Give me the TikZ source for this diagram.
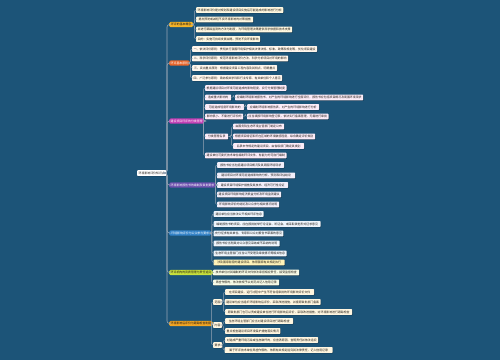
\documentclass[tikz,border=0pt]{standalone}
\usepackage{fontspec}
\newfontfamily\cjk{Noto Sans CJK SC}
\usetikzlibrary{calc,shadows}
\definecolor{bg}{RGB}{28,84,120}
\definecolor{lineC}{RGB}{150,165,180}
\definecolor{cA}{RGB}{245,180,40}
\definecolor{cB}{RGB}{232,100,40}
\definecolor{cC}{RGB}{195,60,180}
\definecolor{cD}{RGB}{110,80,175}
\definecolor{cE}{RGB}{50,130,200}
\definecolor{cF}{RGB}{200,225,60}
\definecolor{cG}{RGB}{242,165,35}
\definecolor{fA}{RGB}{255,248,225}
\definecolor{fB}{RGB}{255,246,236}
\definecolor{fC}{RGB}{251,236,248}
\definecolor{fD}{RGB}{242,238,250}
\definecolor{fE}{RGB}{238,245,252}
\definecolor{fY}{RGB}{255,243,184}
\definecolor{fF}{RGB}{247,251,230}
\definecolor{fG}{RGB}{255,246,224}
\definecolor{txt}{RGB}{30,25,20}
\newcommand\cn[2]{\draw[conn] (#1.east) -- ($(#1.east -| #2.west)+(-1.6,0)$) |- (#2.west);}
\newcommand\rc[1]{\draw[trunk] (root.east) -- ($(root.east -| #1.west)+(-2,0)$) |- (#1.west);}
\begin{document}
\begin{tikzpicture}[x=1pt,y=-1pt,
  every node/.style={font=\cjk\fontsize{2.9}{3}\selectfont, inner sep=0pt, inner xsep=1.5pt, minimum height=5.6pt, anchor=west, text=txt},
  leaf/.style={rounded corners=0.6pt, drop shadow={shadow xshift=0.5pt,shadow yshift=-0.5pt,opacity=0.35,fill=black}},
  br/.style={rounded corners=1.5pt, minimum height=5.4pt},
  conn/.style={draw=lineC, line width=0.4pt, rounded corners=2pt},
  trunk/.style={draw=lineC, line width=0.6pt, rounded corners=2.5pt}]
\fill[bg] (0,0) rectangle (500,360);
\useasboundingbox (0,0) rectangle (500,360);
% root
\node[leaf,fill=white,minimum width=28pt] (root) at (137,173) {环境影响评价知识点};
% branches
\node[br,fill=cA,minimum width=24pt] (b1) at (169,24.5) {环评的基本概念};
\node[br,fill=cB,minimum width=19pt,text=white] (b2) at (169,63) {环评基本原则};
\node[br,fill=cC,minimum width=34pt,text=white] (b3) at (169,121) {建设项目环评的分类管理};
\node[br,fill=cD,minimum width=46pt,text=white] (b4) at (169,185) {环境影响报告书的编制及审批要求};
\node[br,fill=cE,minimum width=42pt,text=white] (b5) at (169,233) {环境影响评价与公众参与要求};
\node[br,fill=cF,minimum width=43pt] (b6) at (169,272.5) {环评机构的资质管理与责任追究};
\node[br,fill=cG,minimum width=42pt] (b7) at (169,323.5) {环境影响后评价与跟踪检查制度};
\foreach \b in {b1,b2,b3,b4,b5,b6,b7} {\rc{\b}}
% branch 1
\node[leaf,fill=fA,minimum width=86pt] (a1) at (196,10) {环境影响评价是对规划和建设项目实施后可能造成的影响进行分析};
\node[leaf,fill=fA,minimum width=57pt] (a2) at (196,19.5) {提出预防或减轻不良环境影响的对策措施};
\node[leaf,fill=fA,minimum width=96pt] (a3) at (196,29.5) {并进行跟踪监测的方法与制度，为环境管理决策提供科学依据和技术支撑};
\node[leaf,fill=fA,minimum width=64pt] (a4) at (196,39) {目的：实施可持续发展战略，预防不良环境影响};
\foreach \n in {a1,a2,a3,a4} {\cn{b1}{\n}}
% branch 2
\node[leaf,fill=fB,minimum width=125pt] (c1) at (192,49) {一、依法评价原则：贯彻执行我国环境保护相关法律法规、标准、政策和规划等，优化项目建设};
\node[leaf,fill=fB,minimum width=96pt] (c2) at (192,58.5) {二、科学评价原则：规范环境影响评价方法，科学分析项目对环境的影响};
\node[leaf,fill=fB,minimum width=85pt] (c3) at (192,68) {三、突出重点原则：根据建设项目工程内容及其特点，明确重点};
\node[leaf,fill=fB,minimum width=90pt] (c4) at (192,78) {四、广泛参与原则：吸纳相关学科和行业专家、有关单位和个人意见};
\foreach \n in {c1,c2,c3,c4} {\cn{b2}{\n}}
% branch 3
\node[leaf,fill=fC,minimum width=81pt] (d1) at (205,88) {根据建设项目对环境可能造成的影响程度，实行分类管理制度};
\node[leaf,fill=fC,minimum width=26pt] (d2) at (205,97.5) {造成重大影响的};
\node[leaf,fill=fC,minimum width=128pt] (d21) at (235,97.5) {应编制环境影响报告书，对产生的环境影响进行全面评价，报告书应包括项目概况及周围环境现状};
\node[leaf,fill=fC,minimum width=39pt] (d3) at (205,107) {可能造成轻度环境影响的};
\node[leaf,fill=fC,minimum width=72pt] (d31) at (247,107) {应编制环境影响报告表，对产生的环境影响进行分析};
\node[leaf,fill=fC,minimum width=38pt] (d4) at (205,116.5) {影响很小、不需进行评价的};
\node[leaf,fill=fC,minimum width=81pt] (d41) at (247,116.5) {应当填报环境影响登记表，依法实行备案管理，无需进行审批};
\node[leaf,fill=fC,minimum width=23pt] (d5) at (205,136.5) {分类管理名录};
\node[leaf,fill=fC,minimum width=51pt] (d51) at (233,126.5) {由国务院生态环境主管部门制定公布};
\node[leaf,fill=fC,minimum width=82pt] (d52) at (233,136.5) {根据项目特征和所在区域的环境敏感程度，综合确定评价类别};
\node[leaf,fill=fC,minimum width=71pt] (d53) at (233,146) {名录未作规定的建设项目，由省级部门确定其类别};
\node[leaf,fill=fC,minimum width=81pt] (d6) at (205,155.5) {建设单位可委托技术单位编制环评文件，有能力的可自行编制};
\foreach \n in {d1,d2,d3,d4,d5,d6} {\cn{b3}{\n}}
\cn{d2}{d21}
\cn{d3}{d31}
\cn{d4}{d41}
\foreach \n in {d51,d52,d53} {\cn{d5}{\n}}
% branch 4
\node[leaf,fill=fD,minimum width=67pt] (e1) at (217,165) {报告书应当包括建设项目概况及其周围环境现状};
\node[leaf,fill=fD,minimum width=78pt] (e2) at (217,175.5) {建设项目对环境可能造成影响的分析、预测和评估结论};
\node[leaf,fill=fD,minimum width=71pt] (e3) at (217,185) {建设项目环境保护措施及其技术、经济可行性论证};
\node[leaf,fill=fD,minimum width=62pt] (e4) at (217,194.5) {建设项目环境影响经济损益分析及环境监测建议};
\node[leaf,fill=fD,minimum width=62pt] (e5) at (217,204.5) {环境影响评价的结论及公众参与相关情况说明};
\foreach \n in {e1,e2,e3,e4,e5} {\cn{b4}{\n}}
% branch 5
\node[leaf,fill=fE,minimum width=50pt] (g1) at (213.5,214) {建设单位应当依法公开相关环评信息};
\node[leaf,fill=fE,minimum width=107pt] (g2) at (213.5,224) {编制报告书的项目，应在报批前举行论证会、听证会，或采取其他形式征求意见};
\node[leaf,fill=fE,minimum width=69pt] (g3) at (213.5,233.5) {充分征求有关单位、专家和公众对报告书草案的意见};
\node[leaf,fill=fE,minimum width=66pt] (g4) at (213.5,243.5) {报告书应当附具对公众意见采纳或不采纳的说明};
\node[leaf,fill=fE,minimum width=73pt] (g5) at (213.5,253.5) {生态环境主管部门应当公开受理及审批情况等相关信息};
\node[leaf,fill=fY,minimum width=71pt] (g6) at (213.5,262.5) {涉及国家秘密的建设项目，依照国家有关规定执行};
\foreach \n in {g1,g2,g3,g4,g5,g6} {\cn{b5}{\n}}
% branch 6
\node[leaf,fill=fF,minimum width=86pt] (h1) at (213,272.5) {技术单位对其编制的环评文件依法承担相应责任，接受监督检查};
\node[leaf,fill=fF,minimum width=66pt] (h2) at (213,282.5) {弄虚作假的，依法依规予以处罚并记入信用记录};
\foreach \n in {h1,h2} {\cn{b6}{\n}}
% branch 7
\node[leaf,fill=fG,minimum width=8.5pt] (s1) at (213,302) {范围};
\node[leaf,fill=fG,minimum width=8.5pt] (s2) at (213,325) {内容};
\node[leaf,fill=fG,minimum width=8.5pt] (s3) at (213,345) {要求};
\foreach \n in {s1,s2,s3} {\cn{b7}{\n}}
\node[leaf,fill=fG,minimum width=89pt] (k1) at (225,292) {在项目建设、运行过程中产生不符合经审批的环境影响评价文件};
\node[leaf,fill=fG,minimum width=96pt] (k2) at (224.5,302) {建设单位应当组织环境影响后评价，采取改进措施，并报原审批部门备案};
\node[leaf,fill=fG,minimum width=127pt] (k3) at (225,312) {原审批部门也可以责成建设单位进行环境影响后评价，采取改进措施，对环境影响进行跟踪检查};
\node[leaf,fill=fG,minimum width=68pt] (k4) at (225,321) {生态环境主管部门应当对建设项目进行跟踪检查};
\node[leaf,fill=fG,minimum width=55pt] (k5) at (225,331) {重点检查建设项目环境保护措施落实情况};
\node[leaf,fill=fG,minimum width=93pt] (k6) at (225,340) {对造成严重环境污染或生态破坏的，应查清原因、查明责任并依法追究};
\node[leaf,fill=fG,minimum width=108pt] (k7) at (224.5,350) {属于环评技术单位弄虚作假的，依照有关规定追究其法律责任，记入信用记录};
\foreach \n in {k1,k2,k3} {\cn{s1}{\n}}
\foreach \n in {k4,k5} {\cn{s2}{\n}}
\foreach \n in {k6,k7} {\cn{s3}{\n}}
\end{tikzpicture}
\end{document}
